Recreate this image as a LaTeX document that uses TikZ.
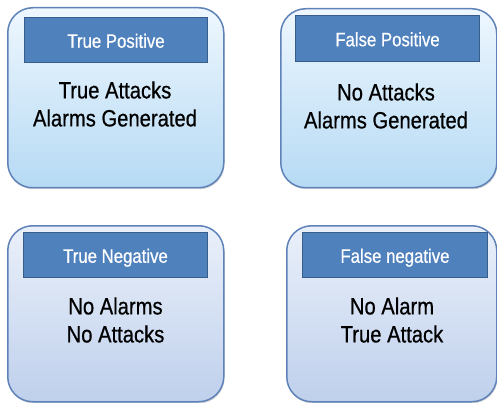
\documentclass[tikz,border=0pt]{standalone}
\usepackage{fontspec}
\setmainfont{Liberation Sans}[FakeStretch=0.86, FakeBold=0.6]
\usetikzlibrary{shadows}
\definecolor{boxborder}{HTML}{5F82B8}
\definecolor{hdrfill}{HTML}{4F81BD}
\definecolor{hdrborder}{HTML}{385D8A}
\definecolor{topA}{HTML}{EEF7FE}
\definecolor{topB}{HTML}{B6DAF4}
\definecolor{botA}{HTML}{EAF0FA}
\definecolor{botB}{HTML}{BFD0EC}
\tikzset{
  card/.style={draw=boxborder, line width=1.5pt, rounded corners=25pt, anchor=north west, inner sep=0pt,
    drop shadow={shadow xshift=0.8pt, shadow yshift=-1.5pt, opacity=0.35}},
  cardtop/.style={card, top color=topA, bottom color=topB},
  cardbot/.style={card, top color=botA, bottom color=botB},
  header/.style={draw=hdrborder, fill=hdrfill, line width=1pt, anchor=north west, inner sep=0pt,
    text=white, font=\fontsize{19.5}{21}\selectfont, text height=16.5pt, text depth=1pt},
  body/.style={align=center, font=\fontsize{23.5}{28}\selectfont, text=black}
}
\begin{document}
\begin{tikzpicture}[x=1pt,y=-1pt]
\useasboundingbox (0,0) rectangle (497,403);
% True Positive
\node[cardtop, minimum width=216pt, minimum height=180pt] (tp) at (7,7) {};
\node[header, minimum width=183pt, minimum height=45pt] (tph) at (24,17) {True Positive};
\node[body] (tpb) at (115,104) {True Attacks\\Alarms Generated};
% False Positive
\node[cardtop, minimum width=216pt, minimum height=179pt] (fp) at (280,8) {};
\node[header, minimum width=184pt, minimum height=46pt] (fph) at (295,15) {False Positive};
\node[body] (fpb) at (386,106) {No Attacks\\Alarms Generated};
% True Negative
\node[cardbot, minimum width=216pt, minimum height=176pt] (tn) at (7,225) {};
\node[header, minimum width=184pt, minimum height=45pt] (tnh) at (23,232) {True Negative};
\node[body] (tnb) at (115.5,320) {No Alarms\\No Attacks};
% False negative
\node[cardbot, minimum width=210pt, minimum height=176pt] (fn) at (286,225) {};
\node[header, minimum width=185pt, minimum height=45pt] (fnh) at (302,232) {False negative};
\node[body] (fnb) at (392,320) {No Alarm\\True Attack};
\end{tikzpicture}
\end{document}
